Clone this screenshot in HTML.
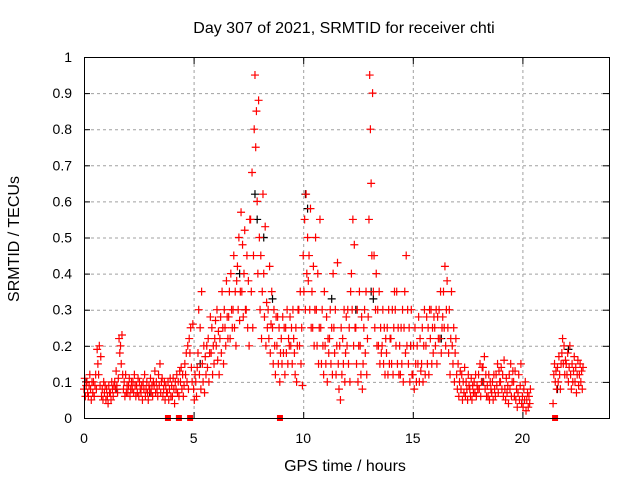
<!DOCTYPE html>
<html><head><meta charset="utf-8"><style>
body{margin:0;background:#fff}svg{display:block;font-family:"Liberation Sans",sans-serif}
</style></head><body>
<svg id="chart" width="640" height="480" xmlns="http://www.w3.org/2000/svg">
<rect width="640" height="480" fill="#fff"/>
<text x="344" y="33" font-size="16" text-anchor="middle">Day 307 of 2021, SRMTID for receiver chti</text>
<text x="345" y="471" font-size="16" text-anchor="middle">GPS time / hours</text>
<text transform="translate(19,239) rotate(-90)" font-size="16" text-anchor="middle">SRMTID / TECUs</text>
<g id="grid"></g>
<g id="ticks"></g>
<g id="black"></g>
<g id="red"></g>
<g id="marks"></g>
<rect x="84.5" y="57.5" width="525" height="361" fill="none" stroke="#000" stroke-width="1"/>
</svg>
<script>
const xTicks=[0,5,10,15,20];
const yTicks=[0,0.1,0.2,0.3,0.4,0.5,0.6,0.7,0.8,0.9,1];
const yTickLabels=["0","0.1","0.2","0.3","0.4","0.5","0.6","0.7","0.8","0.9","1"];
const redTimes=[0,0.2,0.4,0.6,0.8,1,1.2,1.4,1.6,1.8,2,2.2,2.4,2.6,2.8,3,3.2,3.4,3.6,3.8,4,4.2,4.4,4.6,4.8,5,5.2,5.4,5.6,5.8,6,6.2,6.4,6.6,6.8,7,7.2,7.4,7.6,7.8,8,8.2,8.4,8.6,8.8,9,9.2,9.4,9.6,9.8,10,10.2,10.4,10.6,10.8,11,11.2,11.4,11.6,11.8,12,12.2,12.4,12.6,12.8,13,13.2,13.4,13.6,13.8,14,14.2,14.4,14.6,14.8,15,15.2,15.4,15.6,15.8,16,16.2,16.4,16.6,16.8,17,17.2,17.4,17.6,17.8,18,18.2,18.4,18.6,18.8,19,19.2,19.4,19.6,19.8,20,20.2,21.4,21.6,21.8,22,22.2,22.4,22.6];
const redValues=[
[.08,.11,.06,.09,.1,.07],[.06,.09,.12,.08,.05,.1],[.07,.1,.06,.09,.12,.08],[.19,.15,.12,.2,.09,.17],[.06,.08,.05,.1,.07,.09],
[.05,.08,.06,.04,.09,.07],[.07,.05,.1,.08,.06,.09],[.1,.08,.13,.09,.07,.11],[.22,.18,.2,.15,.23,.12],[.08,.1,.06,.12,.07,.09],
[.07,.09,.11,.06,.08,.1],[.08,.1,.07,.12,.09,.06],[.09,.07,.11,.06,.1,.08],[.07,.09,.05,.1,.08,.12],[.06,.08,.1,.07,.05,.09],
[.08,.11,.07,.09,.06,.1],[.09,.13,.07,.1,.08,.06],[.12,.09,.15,.07,.1,.11],[.06,.08,.1,.05,.09,.07],[.07,.1,.05,.08,.11,.06],
[.09,.06,.11,.08,.04,.1],[.08,.12,.07,.1,.06,.13],[.1,.14,.08,.12,.06,.09],[.15,.12,.18,.1,.2,.08],[.22,.18,.25,.14,.1,.26],
[.08,.05,.12,.1,.06,.14],[.18,.3,.12,.25,.08,.35],[.15,.1,.2,.07,.17,.12],[.2,.14,.22,.1,.18,.28],[.18,.25,.12,.2,.15,.22],
[.27,.2,.3,.16,.24,.12],[.22,.28,.18,.35,.25,.15],[.3,.25,.2,.38,.28,.22],[.28,.35,.22,.4,.3,.25],[.3,.45,.25,.35,.2,.38],
[.42,.3,.5,.27,.35,.57],[.35,.48,.28,.4,.52,.3],[.3,.45,.25,.38,.2,.55],[.55,.35,.68,.25,.45,.8],[.95,.75,.85,.6,.4,.88],
[.5,.3,.45,.22,.35,.62],[.4,.28,.53,.2,.32,.25],[.3,.22,.42,.18,.26,.35],[.25,.15,.3,.2,.12,.28],[.2,.28,.15,.25,.1,.18],
[.22,.15,.28,.18,.25,.12],[.25,.18,.3,.15,.22,.2],[.28,.2,.25,.15,.3,.22],[.18,.12,.25,.1,.2,.3],[.3,.2,.35,.15,.25,.09],
[.45,.35,.55,.3,.62,.4],[.5,.38,.45,.3,.58,.25],[.35,.25,.42,.2,.3,.5],[.3,.2,.4,.15,.25,.55],[.25,.15,.3,.2,.12,.35],
[.2,.15,.28,.1,.22,.18],[.22,.3,.15,.25,.12,.4],[.25,.18,.3,.12,.2,.43],[.15,.08,.2,.05,.25,.12],[.22,.15,.3,.1,.18,.28],
[.2,.3,.15,.25,.1,.35],[.4,.3,.55,.2,.48,.25],[.25,.15,.3,.1,.2,.35],[.2,.12,.28,.08,.15,.25],[.3,.18,.35,.12,.22,.28],
[.55,.95,.8,.65,.45,.9],[.35,.45,.25,.3,.4,.2],[.3,.2,.35,.15,.25,.18],[.2,.3,.15,.25,.12,.22],[.18,.25,.12,.3,.15,.22],
[.22,.15,.3,.12,.25,.35],[.3,.2,.35,.15,.25,.12],[.2,.12,.25,.15,.3,.1],[.25,.35,.18,.45,.2,.3],[.15,.25,.1,.2,.3,.12],
[.12,.2,.08,.25,.15,.1],[.2,.15,.28,.1,.22,.13],[.15,.25,.1,.2,.3,.12],[.2,.28,.15,.25,.12,.3],[.22,.3,.15,.25,.18,.28],
[.25,.2,.3,.15,.28,.22],[.3,.22,.35,.18,.25,.28],[.35,.25,.42,.2,.3,.38],[.25,.18,.3,.12,.22,.35],[.2,.15,.25,.1,.18,.22],
[.12,.08,.15,.06,.1,.13],[.08,.12,.05,.1,.07,.14],[.06,.1,.08,.05,.12,.09],[.08,.06,.11,.05,.09,.07],[.1,.07,.12,.06,.09,.08],
[.12,.08,.15,.06,.1,.14],[.14,.1,.17,.08,.12,.06],[.09,.06,.12,.05,.1,.08],[.07,.1,.05,.12,.08,.06],[.12,.09,.15,.07,.13,.1],
[.1,.14,.08,.12,.06,.16],[.08,.05,.11,.07,.09,.04],[.12,.08,.15,.06,.1,.13],[.1,.06,.13,.05,.08,.03],[.07,.12,.05,.09,.15,.04],
[.06,.03,.08,.05,.1,.02],[.05,.07,.03,.06,.04,.08],
[.04,.12,.15,.1,.13,.08],[.14,.1,.17,.12,.08,.15],[.18,.22,.15,.2,.12,.16],[.15,.12,.18,.1,.14,.2],[.12,.08,.15,.1,.13,.17],[.1,.14,.07,.12,.16,.09],[.12,.15,.1,.13,.08,.14]];
const blackTimes=[0.1,1.5,3,5.3,7.1,7.8,7.9,8.2,8.6,10.1,10.2,11.3,12.4,13.1,13.2,14.9,16.3,18.2,21.6,22.1];
const blackValues=[0.1,0.08,0.07,0.15,0.4,0.62,0.55,0.5,0.33,0.62,0.58,0.33,0.3,0.35,0.33,0.2,0.22,0.1,0.08,0.19];
const gapTimes=[3.83,4.33,4.84,8.94,21.49];

const X=t=>84+t*21.92, Y=v=>418-v*361;
const NS="http://www.w3.org/2000/svg";
function mk(tag,attrs,parent){const e=document.createElementNS(NS,tag);for(const k in attrs)e.setAttribute(k,attrs[k]);parent.appendChild(e);return e;}
const grid=document.getElementById('grid'),ticks=document.getElementById('ticks');
yTicks.forEach((v,i)=>{
  if(i>0&&i<yTicks.length-1){const l=mk('line',{x1:85,x2:609,y1:Y(v)+.5,y2:Y(v)+.5,stroke:'#a0a0a0','stroke-dasharray':'3,3'},grid);
  
  }
  mk('line',{x1:84,x2:90,y1:Y(v)+.5,y2:Y(v)+.5,stroke:'#000'},ticks);
  mk('line',{x1:603,x2:609,y1:Y(v)+.5,y2:Y(v)+.5,stroke:'#000'},ticks);
  const t=mk('text',{x:72,y:Y(v)+5,'font-size':14,'text-anchor':'end'},ticks);t.textContent=yTickLabels[i];
  
  
});
xTicks.forEach(v=>{
  if(v>0){const l=mk('line',{x1:X(v)+.5,x2:X(v)+.5,y1:58,y2:418,stroke:'#a0a0a0','stroke-dasharray':'3,3'},grid);
  
  }
  mk('line',{x1:X(v)+.5,x2:X(v)+.5,y1:412,y2:418,stroke:'#000'},ticks);
  mk('line',{x1:X(v)+.5,x2:X(v)+.5,y1:58,y2:64,stroke:'#000'},ticks);
  const t=mk('text',{x:X(v),y:443,'font-size':14,'text-anchor':'middle'},ticks);t.textContent=String(v);
  
  
});
function plus(x,y,col,g){const p=mk('path',{d:`M${x-4} ${y}h8M${x} ${y-4}v8`,stroke:col,'stroke-width':1.2,fill:'none'},g);return p;}
const bg=document.getElementById('black');
blackTimes.forEach((t,i)=>{const p=plus(X(t),Y(blackValues[i]),'#000',bg);
  
  });
const rg=document.getElementById('red');
redTimes.forEach((t,i)=>{redValues[i].forEach((v,k)=>{
  const p=plus(X(t+k*0.033),Y(v),'#ff0000',rg);
  
  
});});
const mg=document.getElementById('marks');
gapTimes.forEach(t=>{const r=mk('rect',{x:X(t)-3,y:415,width:6,height:6,fill:'#ff0000'},mg);
  
  });
</script>
</body></html>
